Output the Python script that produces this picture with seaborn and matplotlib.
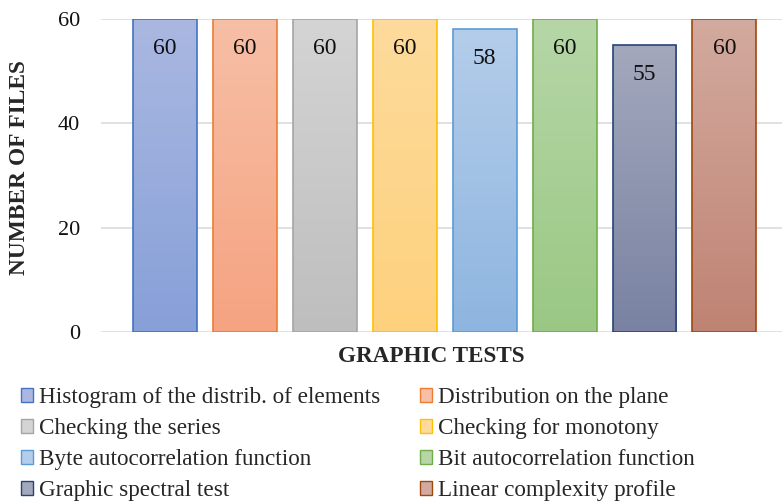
import numpy as np
import pandas as pd
import matplotlib
matplotlib.use("Agg")
import matplotlib.pyplot as plt
from matplotlib.colors import LinearSegmentedColormap
from matplotlib.patches import Patch
import seaborn as sns

tests = [
    "Histogram of the distrib. of elements",
    "Distribution on the plane",
    "Checking the series",
    "Checking for monotony",
    "Byte autocorrelation function",
    "Bit autocorrelation function",
    "Graphic spectral test",
    "Linear complexity profile",
]
files = [60, 60, 60, 60, 58, 60, 55, 60]

top_colors = ["#AAB8E1", "#F7BFA6", "#D4D4D4", "#FEDB9C", "#B4CDEA", "#B6D6A7", "#A3A8BC", "#D3AA9F"]
bottom_colors = ["#87A0D8", "#F5A381", "#BEBEBE", "#FDD17D", "#8EB5E0", "#9AC884", "#7982A2", "#BF8373"]
edge_colors = ["#4472C4", "#ED7D31", "#A5A5A5", "#FFC000", "#5B9BD5", "#70AD47", "#264478", "#9E480E"]

sns.set_theme(style="white")
plt.rcParams["font.family"] = ["Liberation Serif", "DejaVu Serif"]

df = pd.DataFrame({"test": tests, "files": files})

fig = plt.figure(figsize=(7.82, 5.01), dpi=100)
ax = fig.add_axes([0.129, 0.337, 0.871, 0.625])

sns.barplot(data=df, x="test", y="files", hue="test", palette=bottom_colors,
            width=0.8, legend=False, ax=ax, zorder=2)

# vertical gradient fill for each bar, clipped to the bar shape
for patch, top, bot, edge, val in zip(ax.patches, top_colors, bottom_colors, edge_colors, files):
    x0, y0 = patch.get_x(), patch.get_y()
    w, h = patch.get_width(), patch.get_height()
    cmap = LinearSegmentedColormap.from_list("g", [bot, top])
    grad = np.linspace(0, 1, 256).reshape(-1, 1)
    im = ax.imshow(grad, cmap=cmap, origin="lower", aspect="auto",
                   extent=(x0, x0 + w, y0, y0 + h), zorder=2.5)
    im.set_clip_path(patch)
    patch.set_edgecolor(edge)
    patch.set_linewidth(1.2)
    patch.set_zorder(3)
    patch.set_facecolor("none")
    ax.annotate(f"{val}", xy=(x0 + w / 2, val), xytext=(0, -21),
                textcoords="offset points", ha="center", va="center",
                fontsize=17, color="#111111", zorder=4)

ax.set_xlim(-0.8, 7.72)
ax.set_ylim(0, 60)
ax.set_yticks([0, 20, 40, 60])
ax.set_xticks([])
ax.tick_params(axis="y", length=0, pad=15, labelsize=16, labelcolor="#111111")
ax.yaxis.grid(True, color="#D9D9D9", linewidth=1.1, zorder=0)
ax.set_axisbelow(True)
for s in ax.spines.values():
    s.set_visible(False)

ax.set_ylabel("NUMBER OF FILES", fontsize=16.8, fontweight="bold")
ax.set_xlabel("GRAPHIC TESTS", fontsize=16.7, fontweight="bold")
ax.yaxis.set_label_coords(-0.104, 0.525)
ax.xaxis.set_label_coords(0.485, -0.045)

handles = [Patch(facecolor=c, edgecolor=e, linewidth=1) for c, e in zip(top_colors, edge_colors)]
order = [0, 2, 4, 6, 1, 3, 5, 7]
fig.legend([handles[i] for i in order], [tests[i] for i in order],
           ncol=2, loc="upper left", bbox_to_anchor=(0.027, 0.227),
           frameon=False, fontsize=16.7, handlelength=0.52, handleheight=0.52,
           handletextpad=0.26, columnspacing=1.72, labelspacing=0.43,
           borderpad=0, borderaxespad=0)

fig.savefig("out.png", dpi=100)
